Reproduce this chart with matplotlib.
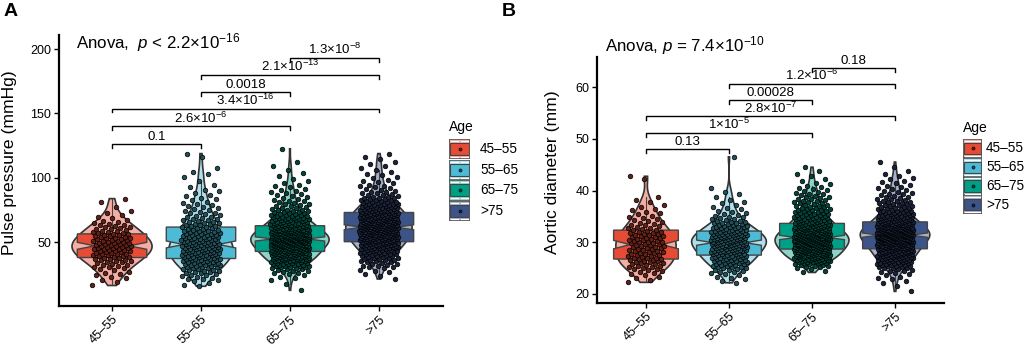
import numpy as np
import matplotlib
matplotlib.use('Agg')
import matplotlib.pyplot as plt
from matplotlib.patches import Polygon, Rectangle
import matplotlib.colors as mcolors

plt.rcParams['font.family'] = ['Liberation Sans', 'DejaVu Sans']
plt.rcParams['mathtext.fontset'] = 'custom'
plt.rcParams['mathtext.rm'] = 'Liberation Sans'
plt.rcParams['mathtext.it'] = 'Liberation Sans:italic'
plt.rcParams['mathtext.bf'] = 'Liberation Sans:bold'

# ---------------- data ----------------
groups = ['45–55', '55–65', '65–75', '>75']
colors = ['#E64B35', '#4DBBD5', '#00A087', '#3C5488']

# Pulse pressure (mmHg): counts of subjects per 5-mmHg bin, first bin start per group
pp_bin_width = 5
pp_bin_start = [15, 15, 10, 20]
pp_counts_4555 = [2, 4, 6, 9, 13, 16, 17, 15, 12, 9, 5, 3, 1, 2]
pp_counts_5565 = [4, 8, 12, 18, 22, 24, 24, 21, 17, 13, 10, 8, 6, 5, 4, 3, 1, 3, 1, 0, 2]
pp_counts_6575 = [1, 1, 4, 10, 22, 34, 40, 48, 56, 46, 34, 24, 16, 10, 8, 6, 5, 3, 2, 2, 1, 0, 1]
pp_counts_75 = [2, 5, 10, 16, 22, 30, 36, 40, 42, 38, 32, 24, 16, 10, 7, 5, 4, 3, 3, 2]

# Aortic diameter (mm): counts per 1-mm bin
ad_bin_width = 1
ad_bin_start = [22, 22, 24, 20]
ad_counts_4555 = [2, 4, 6, 9, 11, 10, 10, 11, 11, 10, 8, 6, 5, 4, 3, 2, 2, 0, 0, 0, 2]
ad_counts_5565 = [3, 4, 8, 12, 16, 18, 21, 24, 25, 22, 17, 12, 8, 5, 4, 3, 2, 2, 1, 0, 0, 0, 0, 0, 1]
ad_counts_6575 = [3, 10, 22, 30, 33, 38, 42, 38, 30, 24, 18, 14, 11, 9, 8, 6, 5, 3, 2, 2, 1]
ad_counts_75 = [1, 1, 3, 4, 7, 14, 20, 24, 27, 32, 38, 44, 38, 30, 23, 17, 12, 10, 8, 6, 5, 4, 3, 2, 1, 1]

# pairwise comparisons (group i, group j, label)
pp_pairs = [(1, 2, '0.1'), (1, 3, '2.6×10$^{-6}$'), (1, 4, '3.4×10$^{-16}$'),
            (2, 3, '0.0018'), (2, 4, '2.1×10$^{-13}$'), (3, 4, '1.3×10$^{-8}$')]
pp_pair_y = [126.2, 140.0, 153.7, 166.6, 179.8, 193.3]
ad_pairs = [(1, 2, '0.13'), (1, 3, '1×10$^{-5}$'), (1, 4, '2.8×10$^{-7}$'),
            (2, 3, '0.00028'), (2, 4, '1.2×10$^{-6}$'), (3, 4, '0.18')]
ad_pair_y = [48.07, 51.16, 54.33, 57.49, 60.64, 63.74]

pp_anova = r'Anova,  $p$ < 2.2×10$^{-16}$'
ad_anova = r'Anova, $p$ = 7.4×10$^{-10}$'


def expand(counts, start, width):
    vals = []
    for k, n in enumerate(counts):
        lo = start + k * width
        for i in range(n):
            vals.append(lo + (i + 0.5) / n * width)
    return np.array(vals)


def mix(c, w):
    r = np.array(mcolors.to_rgb(c))
    return tuple(r * (1 - w) + np.ones(3) * w)


def darken(c, f):
    r = np.array(mcolors.to_rgb(c))
    return tuple(r * f)


def kde(y):
    n = len(y)
    sd = np.std(y, ddof=1)
    iqr = np.subtract(*np.percentile(y, [75, 25]))
    bw = 0.9 * min(sd, iqr / 1.34) * n ** (-0.2)
    grid = np.linspace(y.min(), y.max(), 512)
    d = np.exp(-0.5 * ((grid[:, None] - y[None, :]) / bw) ** 2).sum(1) / (n * bw * np.sqrt(2 * np.pi))
    return grid, d


def draw_panel(ax, data, pairs, pair_y, tip):
    kdes = [kde(y) for y in data]
    maxd = max(k[1].max() for k in kdes)
    gidx = 0
    for i, y in enumerate(data):
        pos = i + 1
        c = colors[i]
        g, d = kdes[i]
        hw = 0.45 * d / maxd
        xs = np.concatenate([pos - hw, (pos + hw)[::-1]])
        ys = np.concatenate([g, g[::-1]])
        ax.add_patch(Polygon(np.column_stack([xs, ys]), closed=True,
                             facecolor=mix(c, 0.55), edgecolor='#333333', lw=1.2, zorder=1))
        ax.boxplot(y, positions=[pos], widths=0.78, notch=True, patch_artist=True,
                   showfliers=False, showcaps=False, whis=1.5, manage_ticks=False,
                   boxprops=dict(facecolor=c, edgecolor='#444444', lw=1.0),
                   medianprops=dict(color=mix(c, 0.5), lw=1.2),
                   whiskerprops=dict(color='#444444', lw=0.8), zorder=2)
        jit = np.array([((gidx + k) * 0.6180339887) % 1.0 for k in range(len(y))])
        gidx += len(y)
        ax.scatter(pos + (jit - 0.5) * 0.44, y, s=11, color=darken(c, 0.42),
                   edgecolors='black', linewidths=0.5, zorder=3)
    for (a, b, lab), yy in zip(pairs, pair_y):
        ax.plot([a, a, b, b], [yy - tip, yy, yy, yy - tip], color='black', lw=1.0, zorder=4,
                solid_joinstyle='miter')
        ax.text((a + b) / 2, yy + tip * 0.15, lab, ha='center', va='bottom', fontsize=9.5, zorder=5)
    ax.set_xticks([1, 2, 3, 4])
    ax.set_xticklabels(groups, rotation=45, ha='right', va='top', rotation_mode='anchor',
                       fontsize=9)
    for s in ['top', 'right']:
        ax.spines[s].set_visible(False)
    for s in ['left', 'bottom']:
        ax.spines[s].set_linewidth(1.6)
    ax.tick_params(length=3.5, width=1.0, labelsize=9, colors='black', pad=2)


def draw_legend(fig, xk, ytop, kh, kw, xt, title_y):
    W, H = 1026, 348
    fig.text(xk / W, 1 - title_y / H, 'Age', fontsize=10, ha='left', va='center')
    for i, c in enumerate(colors):
        y0 = ytop + i * kh
        ax = fig.add_axes([xk / W, 1 - (y0 + kh) / H, kw / W, kh / H])
        ax.set_xlim(0, 1); ax.set_ylim(0, 1)
        ax.axis('off')
        ax.add_patch(Rectangle((0, 0), 1, 1, facecolor=mix(c, 0.55), edgecolor='none'))
        ax.add_patch(Rectangle((0.05, 0.2), 0.9, 0.6, facecolor=c, edgecolor='#444444', lw=0.8))
        ax.plot([0.1, 0.45], [0.1, 0.1], color='white', lw=0.8)
        ax.plot([0.55, 0.9], [0.1, 0.1], color='white', lw=0.8)
        ax.plot([0.1, 0.45], [0.9, 0.9], color='white', lw=0.8)
        ax.plot([0.55, 0.9], [0.9, 0.9], color='white', lw=0.8)
        ax.scatter([0.5], [0.5], s=5, color=darken(c, 0.42), edgecolors='black', linewidths=0.4)
        ax.add_patch(Rectangle((0, 0), 1, 1, facecolor='none', edgecolor='#555555', lw=1.2))
        fig.text(xt / W, 1 - (y0 + kh / 2) / H, groups[i], fontsize=9.8, ha='left', va='center')


fig = plt.figure(figsize=(10.26, 3.48), dpi=100)
W, H = 1026, 348

# Panel A
axA = fig.add_axes([59 / W, 1 - 306 / H, (443 - 59) / W, (306 - 35) / H])
pp_data = [expand(c, s, pp_bin_width) for c, s in
           zip([pp_counts_4555, pp_counts_5565, pp_counts_6575, pp_counts_75], pp_bin_start)]
draw_panel(axA, pp_data, pp_pairs, pp_pair_y, 3.0)
axA.set_xlim(0.404, 4.72)
axA.set_ylim(0.3, 210.9)
axA.set_yticks([50, 100, 150, 200])
axA.text(0.596, 205.4, pp_anova, fontsize=12.2, ha='left', va='center')
fig.text(10 / W, 1 - 163 / H, 'Pulse pressure (mmHg)', rotation=90, fontsize=12.6,
         ha='center', va='center')
fig.text(4 / W, 1 - 12 / H, 'A', fontsize=14, fontweight='bold', ha='left', va='center')
draw_legend(fig, 449, 139, 20.5, 21, 480, 127)

# Panel B
axB = fig.add_axes([597 / W, 1 - 303 / H, (944 - 597) / W, (303 - 57) / H])
ad_data = [expand(c, s, ad_bin_width) for c, s in
           zip([ad_counts_4555, ad_counts_5565, ad_counts_6575, ad_counts_75], ad_bin_start)]
draw_panel(axB, ad_data, ad_pairs, ad_pair_y, 0.8)
axB.set_xlim(0.41, 4.59)
axB.set_ylim(18.26, 65.8)
axB.set_yticks([20, 30, 40, 50, 60])
axB.text(0.506, 68.0, ad_anova, fontsize=12.2, ha='left', va='center', clip_on=False)
fig.text(553 / W, 1 - 172 / H, 'Aortic diameter (mm)', rotation=90, fontsize=12.6,
         ha='center', va='center')
fig.text(502 / W, 1 - 12 / H, 'B', fontsize=14, fontweight='bold', ha='left', va='center')
draw_legend(fig, 963, 139, 18.8, 19, 986, 128)

fig.savefig('out.png', dpi=100)
